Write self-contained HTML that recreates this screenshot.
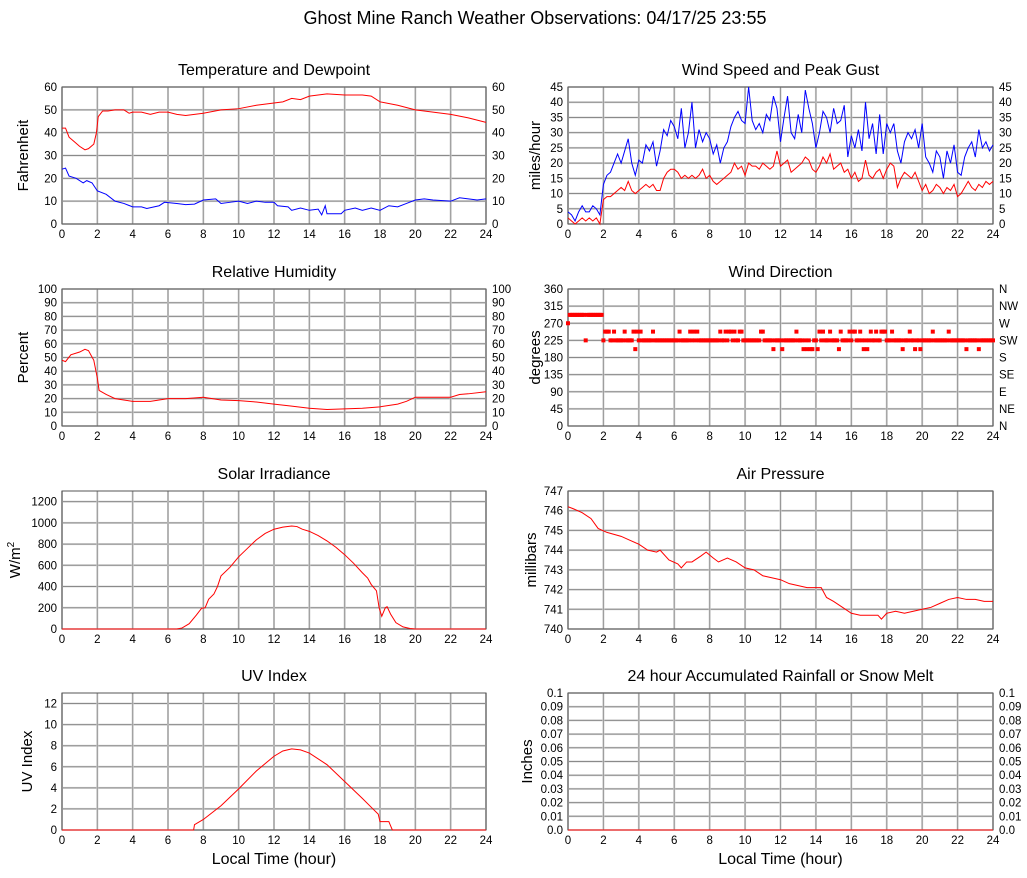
<!DOCTYPE html>
<html><head><meta charset="utf-8"><style>
body{margin:0;background:#fff;}
svg{display:block;font-family:"Liberation Sans",sans-serif;}
</style></head><body>
<svg id="c" width="1027" height="878" viewBox="0 0 1027 878">
<text x="535" y="24" text-anchor="middle" font-size="18">Ghost Mine Ranch Weather Observations: 04/17/25 23:55</text>
</svg>
<script>
// ---- data ----
const tempT=[0,0.2,0.4,0.7,1.0,1.3,1.5,1.8,1.95,2.05,2.3,2.6,3,3.5,3.8,4,4.5,5,5.5,6,6.5,7,8,9,10,11,12,12.5,13,13.5,14,14.5,15,16,17,17.5,18,19,20,21,22,23,24];
const tempV=[42,42,38,36,34,32.5,33,35,40,47,49.5,49.5,50,50,48.5,49,49,48,49,49,48,47.5,48.5,50,50.5,52,53,53.5,55,54.5,56,56.5,57,56.5,56.5,56,53.5,52,50,49,48,46.5,44.5];
const dewT=[0,0.2,0.4,0.8,1.2,1.4,1.7,2,2.5,3,3.5,4,4.5,4.8,5.5,5.8,6.5,7,7.5,8,8.7,9,9.5,10,10.5,11,11.5,12,12.2,12.8,13,13.5,14,14.5,14.7,14.9,15,15.8,16,16.6,17,17.5,18,18.5,19,19.5,20,20.5,21,22,22.5,23,23.5,24];
const dewV=[24,24.5,21,20,18,19,18,14.5,13,10,9,7.5,7.5,6.8,8,9.5,9,8.5,8.7,10.5,11,9,9.5,10,9,10,9.5,9.5,8,7.5,6,7,6,6.5,4,8,4.5,4.5,6,7,6,7,6,8,7.5,9,10.5,11,10.5,10,11.5,11,10.5,11];
const windStep=0.2;
const gustV=[4,3,1,4,6,4,4,6,5,3,
13,16,17,20,23,20,24,28,20,16,
21,20,26,24,27,19,24,31,29,34,
32,28,38,25,30,40,25,31,27,30,
28,23,26,20,25,27,32,35,37,34,
33,45,34,31,33,30,36,34,42,38,
27,35,42,30,28,36,30,44,38,33,
25,30,37,35,30,38,33,34,39,22,
29,25,31,24,40,28,33,23,36,23,
33,30,33,24,20,27,30,28,31,25,
33,22,20,17,24,22,15,24,20,26,
17,16,22,25,27,22,31,25,27,24,26];
const speedV=[2,1,0,1,2,1,2,1,2,0,
8,9,9,10,11,12,11,14,11,10,
11,12,13,12,13,11,11,15,17,18,
18,17,15,16,15,16,15,16,18,15,
16,14,13,14,15,16,17,20,18,19,
16,20,19,19,18,20,19,18,19,24,
19,20,21,17,18,19,20,22,21,18,
17,19,22,20,23,18,19,20,17,18,
15,17,14,15,21,16,15,17,18,15,
18,20,19,12,15,17,16,15,17,14,
11,13,10,11,13,12,10,12,11,13,
9,10,12,14,12,11,13,12,14,13,14];
const rhT=[0,0.2,0.5,1,1.3,1.5,1.8,2,2.1,2.5,3,3.5,4,5,6,7,8,8.5,9,10,11,12,13,14,15,16,17,18,19,19.5,20,21,22,22.5,23,24];
const rhV=[48,47,52,54,56,55,48,35,26,23,20,19,18,18,20,20,21,20,19,18.5,17.5,16,14.5,13,12,12.5,13,14,16,18,21,21,21,23,23.5,25];
const dirStep=0.1;
const dirV=[270,292,292,292,292,292,292,292,292,292,
225,292,292,292,292,292,292,292,292,292,
225,248,248,248,225,225,248,225,225,225,
225,225,248,225,225,225,225,248,202,248,
225,248,225,225,225,225,225,225,248,225,
225,225,225,225,225,225,225,225,225,225,
225,225,225,248,225,225,225,225,225,248,
225,248,225,248,225,225,225,225,225,225,
225,225,225,225,225,225,248,225,225,248,
225,248,248,225,248,225,225,248,248,225,
225,225,225,225,225,225,225,225,225,248,
248,225,225,225,225,225,202,225,225,225,
225,202,225,225,225,225,225,225,225,248,
225,225,225,202,225,202,225,202,202,225,
225,202,248,225,248,225,225,225,248,225,
225,225,225,202,248,225,225,225,225,248,
225,248,248,225,225,248,225,202,225,202,
225,248,225,225,248,225,225,248,248,248,
225,225,225,248,225,225,225,225,225,202,
225,225,225,248,225,225,202,225,225,202,
225,225,225,225,225,225,248,225,225,225,
225,225,225,225,225,248,225,225,225,225,
225,225,225,225,225,202,225,225,225,225,
225,225,202,225,225,225,225,225,225,225,225];
const solT=[0,6.5,6.8,7.2,7.6,7.9,8.1,8.3,8.6,8.8,9,9.5,10,10.5,11,11.5,12,12.5,13,13.3,13.6,14,14.5,15,15.5,16,16.5,17,17.3,17.5,17.8,17.95,18.1,18.3,18.4,18.6,18.9,19.3,19.7,20,24];
const solV=[0,0,10,50,130,195,200,280,330,400,500,580,680,760,840,900,940,960,970,965,940,920,880,830,770,700,620,530,480,420,360,200,120,200,210,140,60,20,5,0,0];
const presT=[0,0.3,0.8,1.3,1.7,2.2,3,3.5,4,4.5,5,5.2,5.7,6.2,6.4,6.7,7,7.5,7.8,8.2,8.5,9,9.5,10,10.5,11,11.5,12,12.5,13,13.5,14,14.3,14.6,15,15.5,16,16.5,17,17.5,17.7,18,18.5,19,19.5,20,20.5,21,21.5,22,22.5,23,23.5,24];
const presV=[746.2,746.1,745.9,745.6,745.1,744.9,744.7,744.5,744.3,744,743.9,744,743.5,743.3,743.1,743.4,743.4,743.7,743.9,743.6,743.4,743.6,743.4,743.1,743,742.7,742.6,742.5,742.3,742.2,742.1,742.1,742.1,741.6,741.4,741.1,740.8,740.7,740.7,740.7,740.5,740.8,740.9,740.8,740.9,741,741.1,741.3,741.5,741.6,741.5,741.5,741.4,741.4];
const uvT=[0,7.45,7.5,8,9,10,11,12,12.5,13,13.5,14,15,16,17,17.6,17.9,18,18.5,18.6,18.7,24];
const uvV=[0,0,0.5,1,2.3,3.9,5.6,7,7.5,7.7,7.6,7.3,6.2,4.6,3,2,1.5,0.8,0.8,0.4,0,0];
const rainT=[0,24];
const rainV=[0,0];
const xTicks=[0,2,4,6,8,10,12,14,16,18,20,22,24];
const tempTicks=[0,10,20,30,40,50,60];
const windTicks=[0,5,10,15,20,25,30,35,40,45];
const rhTicks=[0,10,20,30,40,50,60,70,80,90,100];
const dirTicks=[0,45,90,135,180,225,270,315,360];
const dirLabels=['N','NE','E','SE','S','SW','W','NW','N'];
const solTicks=[0,200,400,600,800,1000,1200];
const presTicks=[740,741,742,743,744,745,746,747];
const uvTicks=[0,2,4,6,8,10,12];
const rainTicks=[0,0.01,0.02,0.03,0.04,0.05,0.06,0.07,0.08,0.09,0.1];
const rainLabels=['0.0','0.01','0.02','0.03','0.04','0.05','0.06','0.07','0.08','0.09','0.1'];

// ---- drawing ----
const svg=document.getElementById('c');
const NS='http://www.w3.org/2000/svg';
function mk(tag,attrs,parent){const e=document.createElementNS(NS,tag);for(const k in attrs)e.setAttribute(k,attrs[k]);(parent||svg).appendChild(e);return e;}
function txt(s,attrs,parent){const e=mk('text',attrs,parent);e.textContent=s;return e;}

function panel(o){
  const g=mk('g',{});
  
  
  const X=h=>o.x0+(h/24)*(o.x1-o.x0);
  const Y=v=>o.y1-(v-o.ymin)/(o.ymax-o.ymin)*(o.y1-o.y0);
  o.X=X;o.Y=Y;
  o.ticks.forEach(v=>{const y=Y(v);
    const l=mk('line',{x1:o.x0,x2:o.x1,y1:y,y2:y,stroke:'#d8d8d8','stroke-width':2},g);
    
    mk('line',{x1:o.x0,x2:o.x1,y1:y,y2:y,stroke:'#8a8a8a','stroke-width':1},g);});
  xTicks.forEach(h=>{const x=X(h);
    const l=mk('line',{x1:x,x2:x,y1:o.y0,y2:o.y1,stroke:'#d0d0d0','stroke-width':2},g);
    
    mk('line',{x1:x,x2:x,y1:o.y0,y2:o.y1,stroke:'#999','stroke-width':1},g);});
  const fr=mk('rect',{x:o.x0,y:o.y0,width:o.x1-o.x0,height:o.y1-o.y0,fill:'none',stroke:'#555','stroke-width':1},g);
  
  const t=txt(o.title,{x:(o.x0+o.x1)/2,y:o.y0-12,'text-anchor':'middle','font-size':16},g);
  
  o.ticks.forEach((v,i)=>{const s=o.labels?o.labels[i]:String(v);
    const e=txt(s,{x:o.x0-5,y:Y(v)+4,'text-anchor':'end','font-size':11.5},g);
    
    if(o.right){const r=txt(o.rlabels?o.rlabels[i]:s,{x:o.x1+6,y:Y(v)+4,'text-anchor':'start','font-size':11.5},g);
      }
  });
  xTicks.forEach(h=>{const e=txt(String(h),{x:X(h),y:o.y1+14,'text-anchor':'middle','font-size':11.5},g);
    });
  const yl=mk('text',{transform:`translate(${o.x0-o.ylOff},${(o.y0+o.y1)/2}) rotate(-90)`,'text-anchor':'middle','font-size':15},g);
  
  if(o.ylabelSup){yl.textContent='W/m';const ts=document.createElementNS(NS,'tspan');ts.setAttribute('dy','-6');ts.setAttribute('font-size','10');ts.textContent='2';yl.appendChild(ts);}
  else yl.textContent=o.ylabel;
  if(o.xlabel){const xl=txt('Local Time (hour)',{x:(o.x0+o.x1)/2,y:o.y1+34,'text-anchor':'middle','font-size':16},g);
    }
  o.g=g;return o;
}
function line(o,T,V,color,name){
  const d=V.map((v,i)=>(i?'L':'M')+o.X(T[i]).toFixed(2)+','+o.Y(v).toFixed(2)).join('');
  const p=mk('path',{d:d,fill:'none',stroke:color,'stroke-width':1},o.g);
  
}
const L0=62,L1=486,R0=568,R1=993;
const rows=[[87,224],[289,426],[491,629],[693,830]];

const p1=panel({name:'temperature-panel',title:'Temperature and Dewpoint',x0:L0,x1:L1,y0:rows[0][0],y1:rows[0][1],ymin:0,ymax:60,ticks:tempTicks,right:true,ylabel:'Fahrenheit',ylOff:34});
line(p1,tempT,tempV,'#f00','temperature-line');
line(p1,dewT,dewV,'#00f','dewpoint-line');

const p2=panel({name:'wind-speed-panel',title:'Wind Speed and Peak Gust',x0:R0,x1:R1,y0:rows[0][0],y1:rows[0][1],ymin:0,ymax:45,ticks:windTicks,right:true,ylabel:'miles/hour',ylOff:28});
const windT=gustV.map((v,i)=>i*windStep);
line(p2,windT,gustV,'#00f','gust-line');
line(p2,windT,speedV,'#f00','wind-speed-line');

const p3=panel({name:'humidity-panel',title:'Relative Humidity',x0:L0,x1:L1,y0:rows[1][0],y1:rows[1][1],ymin:0,ymax:100,ticks:rhTicks,right:true,ylabel:'Percent',ylOff:34});
line(p3,rhT,rhV,'#f00','humidity-line');

const p4=panel({name:'wind-direction-panel',title:'Wind Direction',x0:R0,x1:R1,y0:rows[1][0],y1:rows[1][1],ymin:0,ymax:360,ticks:dirTicks,right:true,rlabels:dirLabels,ylabel:'degrees',ylOff:28});
dirV.forEach((v,i)=>{const r=mk('rect',{x:p4.X(i*dirStep)-2,y:p4.Y(v)-2,width:4,height:4,fill:'#f00'},p4.g);
  
  });

const p5=panel({name:'solar-panel',title:'Solar Irradiance',x0:L0,x1:L1,y0:rows[2][0],y1:rows[2][1],ymin:0,ymax:1300,ticks:solTicks,ylabelSup:true,ylOff:42});
line(p5,solT,solV,'#f00','solar-line');

const p6=panel({name:'pressure-panel',title:'Air Pressure',x0:R0,x1:R1,y0:rows[2][0],y1:rows[2][1],ymin:740,ymax:747,ticks:presTicks,ylabel:'millibars',ylOff:32});
line(p6,presT,presV,'#f00','pressure-line');

const p7=panel({name:'uv-panel',title:'UV Index',x0:L0,x1:L1,y0:rows[3][0],y1:rows[3][1],ymin:0,ymax:13,ticks:uvTicks,ylabel:'UV Index',ylOff:30,xlabel:true});
line(p7,uvT,uvV,'#f00','uv-line');

const p8=panel({name:'rainfall-panel',title:'24 hour Accumulated Rainfall or Snow Melt',x0:R0,x1:R1,y0:rows[3][0],y1:rows[3][1],ymin:0,ymax:0.1,ticks:rainTicks,labels:rainLabels,right:true,ylabel:'Inches',ylOff:36,xlabel:true});
line(p8,rainT,rainV,'#f00','rainfall-line');
</script>
</body></html>
